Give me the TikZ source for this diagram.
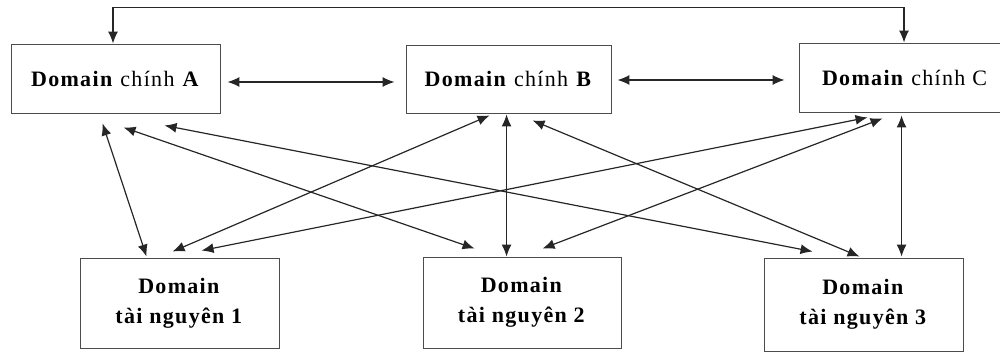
\documentclass[tikz,border=0pt]{standalone}
\usepackage{fontspec}
\setmainfont{Liberation Serif}[LetterSpace=6]
\usetikzlibrary{arrows.meta,calc}
\begin{document}
\begin{tikzpicture}[x=1pt,y=-1pt,
  box/.style={draw=black!70, line width=0.9pt, inner sep=0pt, align=center,
    font=\fontsize{22}{30}\selectfont},
  link/.style={draw=black!85, line width=1.2pt,
    {Latex[length=12pt,width=10pt]}-{Latex[length=12pt,width=10pt]}}]
\useasboundingbox (0,0) rectangle (1000,352);
\clip (0,0) rectangle (1000,352);
% main domains
\node[box, minimum width=209pt, minimum height=69pt] (A) at (115.5,78.5)
  {\textbf{Domain} chính \textbf{A}};
\node[box, minimum width=205pt, minimum height=68pt] (B) at (508.5,79)
  {\textbf{Domain} chính \textbf{B}};
\node[box, minimum width=211pt, minimum height=69pt] (C) at (904.5,77.5)
  {\textbf{Domain} chính C};
% resource domains
\node[box, minimum width=199pt, minimum height=90pt] (R1) at (179.5,303)
  {\textbf{Domain}\\\textbf{tài nguyên 1}};
\node[box, minimum width=198pt, minimum height=91pt] (R2) at (522,302.5)
  {\textbf{Domain}\\\textbf{tài nguyên 2}};
\node[box, minimum width=199pt, minimum height=93pt] (R3) at (863.5,304.5)
  {\textbf{Domain}\\\textbf{tài nguyên 3}};
% top connector A <-> C
\draw[link] ([xshift=-2.5pt]A.north) -- ++(0,-36) -| ([xshift=-0.5pt]C.north);
% horizontal connectors
\draw[link] ([xshift=7pt,yshift=-3.5pt]A.east) -- ([xshift=-11pt,yshift=-3pt]B.west);
\draw[link] ([xshift=6pt,yshift=-1pt]B.east) -- ([xshift=-14pt,yshift=-2.5pt]C.west);
% diagonal connectors
\draw[link] ($(A.south west)+(92,10)$)  -- ($(R1.north west)+(67,-1)$);
\draw[link] ($(A.south west)+(113,14)$) -- ($(R2.north west)+(52,-8)$);
\draw[link] ($(A.south west)+(154,12)$) -- ($(R3.north west)+(49,-6)$);
\draw[link] ($(B.south west)+(84,2)$)   -- ($(R1.north west)+(93,-6)$);
\draw[link] ($(B.south west)+(101,1)$)  -- ($(R2.north west)+(84,0)$);
\draw[link] ($(B.south west)+(127,7)$)  -- ($(R3.north west)+(96,-1)$);
\draw[link] ($(C.south west)+(69,5)$)   -- ($(R1.north west)+(122,-7)$);
\draw[link] ($(C.south west)+(84,6)$)   -- ($(R2.north west)+(120,-8)$);
\draw[link] ($(C.south west)+(103,3)$)  -- ($(R3.north west)+(138,-1)$);
\end{tikzpicture}
\end{document}
